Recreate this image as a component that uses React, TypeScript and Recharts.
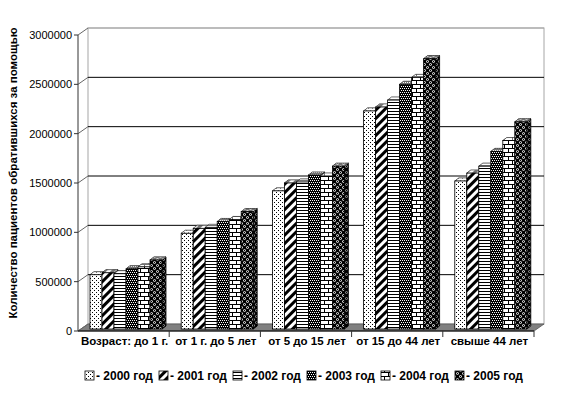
import React from "react"
import { BarChart, Bar, XAxis, YAxis, CartesianGrid, ReferenceArea } from "recharts"

const categories = ["Возраст: до 1 г.", "от 1 г. до 5 лет", "от 5 до 15 лет", "от 15 до 44 лет", "свыше 44 лет"]

const y2000 = [550000, 970000, 1400000, 2210000, 1500000]
const y2001 = [570000, 1020000, 1480000, 2250000, 1580000]
const y2002 = [560000, 1030000, 1490000, 2320000, 1650000]
const y2003 = [610000, 1090000, 1560000, 2480000, 1800000]
const y2004 = [630000, 1110000, 1550000, 2550000, 1910000]
const y2005 = [700000, 1190000, 1650000, 2740000, 2100000]

const years = ["2000", "2001", "2002", "2003", "2004", "2005"]
const yTicks = [0, 500000, 1000000, 1500000, 2000000, 2500000, 3000000]

const yLabel = "Количество пациентов обратившихся за помощью"

const seriesValues = [y2000, y2001, y2002, y2003, y2004, y2005]
const data = categories.map((name, i) => {
  const row: Record<string, string | number> = { name }
  years.forEach((yr, k) => {
    row["y" + yr] = seriesValues[k][i]
  })
  return row
})

const FONT = "'Liberation Sans', Arial, sans-serif"
// depth of the fake 3d box
const DX = 10
const DY = 7

function Patterns() {
  return (
    <defs>
      <pattern id="p2000" width="4" height="4" patternUnits="userSpaceOnUse">
        <rect width="4" height="4" fill="#fff" />
        <rect x="0" y="0" width="1" height="1" fill="#000" />
        <rect x="2" y="2" width="1" height="1" fill="#000" />
      </pattern>
      <pattern id="p2001" width="6" height="6" patternUnits="userSpaceOnUse" patternTransform="rotate(45)">
        <rect width="6" height="6" fill="#fff" />
        <rect x="0" y="0" width="3" height="6" fill="#000" />
      </pattern>
      <pattern id="p2002" width="4" height="3" patternUnits="userSpaceOnUse">
        <rect width="4" height="3" fill="#fff" />
        <rect x="0" y="0" width="4" height="1" fill="#000" />
      </pattern>
      <pattern id="p2003" width="4" height="4" patternUnits="userSpaceOnUse">
        <rect width="4" height="4" fill="#000" />
        <rect x="0" y="0" width="1" height="1" fill="#fff" />
        <rect x="2" y="0" width="1" height="1" fill="#fff" />
        <rect x="1" y="2" width="1" height="1" fill="#fff" />
        <rect x="3" y="2" width="1" height="1" fill="#fff" />
      </pattern>
      <pattern id="p2004" width="8" height="8" patternUnits="userSpaceOnUse">
        <rect width="8" height="8" fill="#fff" />
        <rect x="0" y="0" width="8" height="1" fill="#000" />
        <rect x="0" y="4" width="8" height="1" fill="#000" />
        <rect x="0" y="0" width="1" height="4" fill="#000" />
        <rect x="4" y="4" width="1" height="4" fill="#000" />
      </pattern>
      <pattern id="p2005" width="6" height="6" patternUnits="userSpaceOnUse">
        <rect width="6" height="6" fill="#000" />
        <circle cx="1.5" cy="1.5" r="1.3" fill="#fff" />
        <circle cx="4.5" cy="4.5" r="1.3" fill="#fff" />
        <rect x="1" y="1" width="1" height="1" fill="#000" />
        <rect x="4" y="4" width="1" height="1" fill="#000" />
      </pattern>
    </defs>
  )
}

function Bar3D(props: any) {
  const { x, y, width, height, yr } = props
  if (!height || height <= 0) return null
  const sx = 2
  const sy = -2
  const dx = 4
  const dy = 3
  const x0 = x + sx
  const y0 = y + sy
  const fill = `url(#p${yr})`
  const top = `${x0},${y0} ${x0 + dx},${y0 - dy} ${x0 + width + dx},${y0 - dy} ${x0 + width},${y0}`
  const side = `${x0 + width},${y0} ${x0 + width + dx},${y0 - dy} ${x0 + width + dx},${y0 + height - dy} ${x0 + width},${y0 + height}`
  return (
    <g>
      <polygon points={side} fill={fill} stroke="#000" strokeWidth={0.8} />
      <polygon points={side} fill="#000" fillOpacity={0.35} />
      <polygon points={top} fill={fill} stroke="#000" strokeWidth={0.8} />
      <polygon points={top} fill="#fff" fillOpacity={0.45} />
      <rect x={x0} y={y0} width={width} height={height} fill={fill} stroke="#000" strokeWidth={0.8} />
    </g>
  )
}

function Walls(props: any) {
  const { x, y, width, height } = props
  const bx = x + DX
  const by = y - DY
  const floor = `${x},${y + height} ${bx},${by + height} ${bx + width},${by + height} ${x + width},${y + height}`
  return (
    <g>
      <rect x={bx} y={by} width={width} height={height} fill="#fff" stroke="#a6a6a6" strokeWidth={1} />
      <polygon points={floor} fill="#808080" stroke="#555" strokeWidth={0.8} />
    </g>
  )
}

function GridLine(props: any) {
  const { x1, x2, y1, index } = props
  const isTop = index === yTicks.length - 1 || y1 < 40
  return (
    <g key={`g${index}`}>
      <line x1={x1} y1={y1} x2={x1 + DX} y2={y1 - DY} stroke="#666" strokeWidth={1} />
      {y1 < 325 && (
        <line x1={x1 + DX} y1={y1 - DY} x2={x2 + DX} y2={y1 - DY} stroke={isTop ? "#a6a6a6" : "#000"} strokeWidth={1} />
      )}
    </g>
  )
}

function CatTick(props: any) {
  const { x, y, payload } = props
  const bw = 456 / categories.length
  const axisY = y - 8
  return (
    <g>
      <line x1={x + bw / 2} y1={axisY} x2={x + bw / 2} y2={axisY + 6} stroke="#333" />
      <text x={x + 1} y={axisY + 14} textAnchor="middle" fontFamily={FONT} fontSize={11.5} fontWeight="bold" fill="#000">
        {payload.value}
      </text>
    </g>
  )
}

export default function App() {
  return (
    <div style={{ position: "absolute", left: 0, top: 0, width: 570, height: 395, background: "#fff" }}>
      <BarChart
        width={570}
        height={395}
        data={data}
        margin={{ top: 35, right: 36, bottom: 34, left: 0 }}
        barSize={12}
        barGap={0}
      >
        <ReferenceArea y1={0} y2={3000000} shape={<Walls />} ifOverflow="visible" zIndex={-200} />
        <CartesianGrid vertical={false} horizontal={(p: any) => <GridLine {...p} />} />
        <XAxis
          dataKey="name"
          height={30}
          tickLine={false}
          tickSize={6}
          tickMargin={2}
          axisLine={{ stroke: "#000" }}
          tick={<CatTick />}
          interval={0}
        />
        <YAxis
          width={78}
          domain={[0, 3000000]}
          ticks={yTicks}
          interval={0}
          tickSize={4}
          tickMargin={2}
          axisLine={{ stroke: "#333" }}
          tickLine={{ stroke: "#333" }}
          tick={{ fontFamily: FONT, fontSize: 11, fill: "#000" }}
          tickFormatter={(v: number) => String(v)}
        />
        {years.map((yr) => (
          <Bar key={yr} dataKey={"y" + yr} isAnimationActive={false} shape={(p: any) => <Bar3D {...p} yr={yr} />} />
        ))}
      </BarChart>
      <svg width={570} height={395} style={{ position: "absolute", left: 0, top: 0, pointerEvents: "none" }}>
        <Patterns />
        <text
          transform="translate(17,173) rotate(-90)"
          textAnchor="middle"
          fontFamily={FONT}
          fontSize={11.5}
          fontWeight="bold"
          fill="#000"
        >
          {yLabel}
        </text>
        {years.map((yr, i) => {
          const lx = 85 + i * 74
          return (
            <g key={yr}>
              <rect x={lx} y={371} width={9} height={9} fill={`url(#p${yr})`} stroke="#000" strokeWidth={0.8} />
              <text x={lx + 11} y={380} fontFamily={FONT} fontSize={12} fontWeight="bold" fill="#000">
                {"- " + yr + " год"}
              </text>
            </g>
          )
        })}
      </svg>
    </div>
  )
}
